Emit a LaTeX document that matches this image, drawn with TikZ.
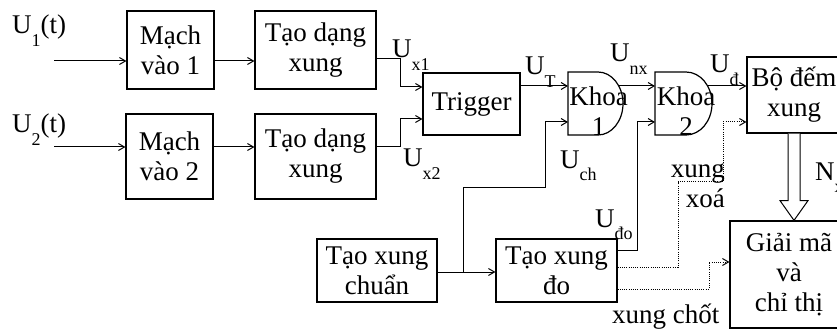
\documentclass[tikz,border=0pt]{standalone}
\usepackage{fontspec}
\setmainfont{Liberation Serif}
\usetikzlibrary{arrows.meta,calc}
\newcommand\lbsub[1]{\raisebox{-0.48em}{\fontsize{18}{18}\selectfont #1}}
\begin{document}
\begin{tikzpicture}[x=1pt,y=-1pt,
  every node/.style={font=\fontsize{27}{30}\selectfont, inner sep=0pt},
  blk/.style={draw, line width=1.2pt, align=center},
  conn/.style={line width=1pt},
  tip/.style={-{Straight Barb[length=6pt,width=7pt]}},
  arr/.style={conn, tip},
  dotl/.style={line width=1pt, dash pattern=on 1pt off 1.2pt},
  lbl/.style={anchor=base west},
  gate/.style={draw, line width=1.2pt}]
\useasboundingbox (0,0) rectangle (837,331);
% blocks
\node[blk, minimum width=87pt, minimum height=78pt] (m1) at (170.5,50) {Mạch\\vào 1};
\node[blk, minimum width=121pt, minimum height=78pt] (t1) at (315.5,50) {Tạo dạng\\xung};
\node[blk, minimum width=87pt, minimum height=85pt] (m2) at (169.5,156.5) {Mạch\\vào 2};
\node[blk, minimum width=121pt, minimum height=85pt] (t2) at (315.5,156.5) {Tạo dạng\\xung};
\node[blk, minimum width=97pt, minimum height=62pt] (trig) at (471.5,104) {Trigger};
\node[blk, minimum width=94pt, minimum height=76pt] (bd) at (794,95) {Bộ đếm\\xung};
\node[blk, minimum width=118pt, minimum height=107pt] (gm) at (789,274.5) {Giải mã\\và\\chỉ thị};
\node[blk, minimum width=120pt, minimum height=63pt] (txc) at (377,270.5) {Tạo xung\\chuẩn};
\node[blk, minimum width=121pt, minimum height=63pt] (txd) at (556.5,270.5) {Tạo xung\\đo};
% gates
\draw[gate] (568,72) -- (598,72) arc[start angle=-90,end angle=90,x radius=25,y radius=31.5] -- (568,135) -- cycle;
\draw[gate] (655,72) -- (686,72) arc[start angle=-90,end angle=90,x radius=26,y radius=31.5] -- (655,135) -- cycle;
\node[align=center, anchor=north] (k1) at (598.5,87) {Khoa\\1};
\node[align=center, anchor=north] (k2) at (686,87) {Khoa\\2};
\coordinate (g1a) at (568,86);
\coordinate (g1b) at (568,122);
\coordinate (g1o) at (619,86);
\coordinate (g2a) at (655,86);
\coordinate (g2b) at (655,122);
\coordinate (g2o) at (707.6,86);
\coordinate (in1) at (54,61);
\coordinate (in2) at (54,147);
\coordinate (j) at (463,272);
% connectors
\draw[arr] (in1) -- (m1.west |- in1);
\draw[arr] (m1.east |- 0,61) -- (t1.west |- 0,61);
\draw[arr] (t1.east |- 0,59) -| (400,87) -- (trig.west |- 0,87);
\draw[arr] (in2) -- (m2.west |- in2);
\draw[arr] (m2.east |- 0,147) -- (t2.west |- 0,147);
\draw[arr] (t2.east |- 0,147) -| (400,119) -- (trig.west |- 0,119);
\draw[arr] (trig.east |- 0,86) -- (g1a);
\draw[arr] (g1o) -- (g2a);
\draw[arr] (g2o) -- (bd.west |- 0,86);
\draw[arr] (txc.east |- 0,272) -- (txd.west |- 0,272);
\draw[arr] (j) |- (545,187) |- (g1b);
\draw[arr] (txd.east |- 0,250) -| (637,122) -- (g2b);
\draw[dotl, tip] (txd.east |- 0,267) -| (678,182) -| (723,122) -- (bd.west |- 0,122);
\draw[dotl, tip] (txd.east |- 0,289) -| (709,262) -- (gm.west |- 0,262);
\draw[line width=1pt, fill=white] ($(bd.south)+(-6,0)$) -- ++(0,67) -- ++(-8,0) -- (bd.south |- gm.north) -- ($(bd.south)+(14,67)$) -- ++(-8,0) -- ($(bd.south)+(6,0)$);
% labels
\node[lbl] (lu1) at (12,34) {U\lbsub{1}(t)};
\node[lbl] (lu2) at (12,133) {U\lbsub{2}(t)};
\node[lbl] (lux1) at (392,58) {U\lbsub{x1}};
\node[lbl] (lux2) at (403,167) {U\lbsub{x2}};
\node[lbl] (lut) at (525,75) {U\lbsub{T}};
\node[lbl] (lunx) at (610,62) {U\lbsub{nx}};
\node[lbl] (lud) at (710,73) {U\lbsub{đ}};
\node[lbl] (luch) at (560,168) {U\lbsub{ch}};
\node[lbl] (ludo) at (595,227) {U\lbsub{đo}};
\node[align=right, anchor=north east] (lxx) at (725,163) {xung\\xoá};
\node[lbl] (lxc) at (612,323) {xung chốt};
\node[lbl] (lnx) at (815,180) {N\lbsub{x}};
\end{tikzpicture}
\end{document}
